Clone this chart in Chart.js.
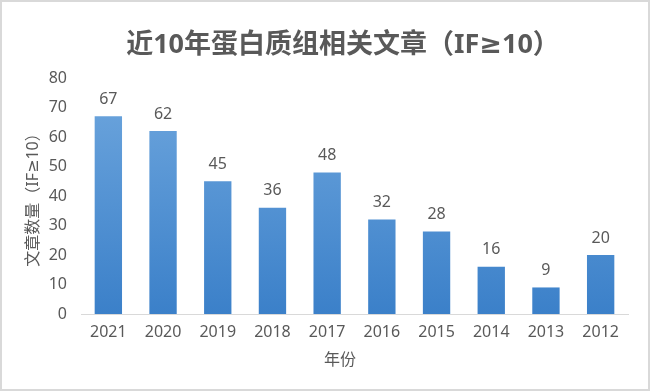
<!DOCTYPE html>
<html lang="zh">
<head>
    <meta charset="UTF-8">
    <title>近10年蛋白质组相关文章</title>
    <script src="https://cdn.jsdelivr.net/npm/chart.js"></script>
    <style>
        body {
            margin: 0;
            background: #fff;
        }
        .frame {
            width: 646px;
            height: 387px;
            border: 2px solid #d9d9d9;
        }
        canvas {
            display: block;
        }
    </style>
</head>
<body>

<div class="frame">
    <canvas id="myChart" width="646" height="387"></canvas>
</div>

<script>
    // dados
    const years = ['2021', '2020', '2019', '2018', '2017', '2016', '2015', '2014', '2013', '2012'];
    const articles = [67, 62, 45, 36, 48, 32, 28, 16, 9, 20];
    const chartTitle = '近10年蛋白质组相关文章（IF≥10）';
    const xTitle = '年份';
    const yTitle = '文章数量（IF≥10）';

    const textColor = '#595959';
    const fontFamily = '"Noto Sans", "DejaVu Sans", "Noto Sans CJK SC", sans-serif';

    // gradiente das barras (claro em cima, escuro em baixo)
    function barGradient(context) {
        const chart = context.chart;
        const area = chart.chartArea;
        if (!area) return '#5b9bd5';
        const g = chart.ctx.createLinearGradient(0, area.top, 0, area.bottom);
        g.addColorStop(0, '#6fa7de');
        g.addColorStop(1, '#3b80c9');
        return g;
    }

    // título, título do eixo x e valores por cima das barras
    const extraText = {
        id: 'extraText',
        afterDatasetsDraw(chart) {
            const ctx = chart.ctx;
            const meta = chart.getDatasetMeta(0);
            ctx.save();
            ctx.fillStyle = textColor;
            ctx.textAlign = 'center';
            ctx.textBaseline = 'middle';

            ctx.font = 'bold 27px ' + fontFamily;
            ctx.fillText(chartTitle, 341, 43);

            ctx.font = '16px ' + fontFamily;
            ctx.fillText(xTitle, 338, 358);

            ctx.textBaseline = 'bottom';
            meta.data.forEach((bar, i) => {
                ctx.fillText(articles[i], bar.x, bar.y - 9);
            });
            ctx.restore();
        }
    };

    new Chart(document.getElementById('myChart'), {
        type: 'bar',
        data: {
            labels: years,
            datasets: [{
                data: articles,
                backgroundColor: barGradient,
                barPercentage: 0.5,
                categoryPercentage: 1.0
            }]
        },
        options: {
            responsive: false,
            animation: false,
            layout: {
                padding: { left: 0, right: 20, top: 76, bottom: 0 }
            },
            plugins: {
                legend: { display: false },
                tooltip: { enabled: false },
                title: { display: false }
            },
            scales: {
                x: {
                    grid: { display: false, drawTicks: false },
                    border: { display: true, color: '#d9d9d9', width: 1 },
                    ticks: {
                        color: textColor,
                        font: { family: fontFamily, size: 16 },
                        padding: 9
                    },
                    afterFit(scale) {
                        scale.height = 75;
                    }
                },
                y: {
                    min: 0,
                    max: 80,
                    grid: { display: false, drawTicks: false },
                    border: { display: false },
                    ticks: {
                        stepSize: 10,
                        color: textColor,
                        font: { family: fontFamily, size: 16 },
                        padding: 14
                    },
                    title: {
                        display: true,
                        text: yTitle,
                        color: textColor,
                        font: { family: fontFamily, size: 16 },
                        padding: { top: 22, bottom: 0 }
                    },
                    afterFit(scale) {
                        scale.width = 79;
                    }
                }
            }
        },
        plugins: [extraText]
    });
</script>

</body>
</html>
